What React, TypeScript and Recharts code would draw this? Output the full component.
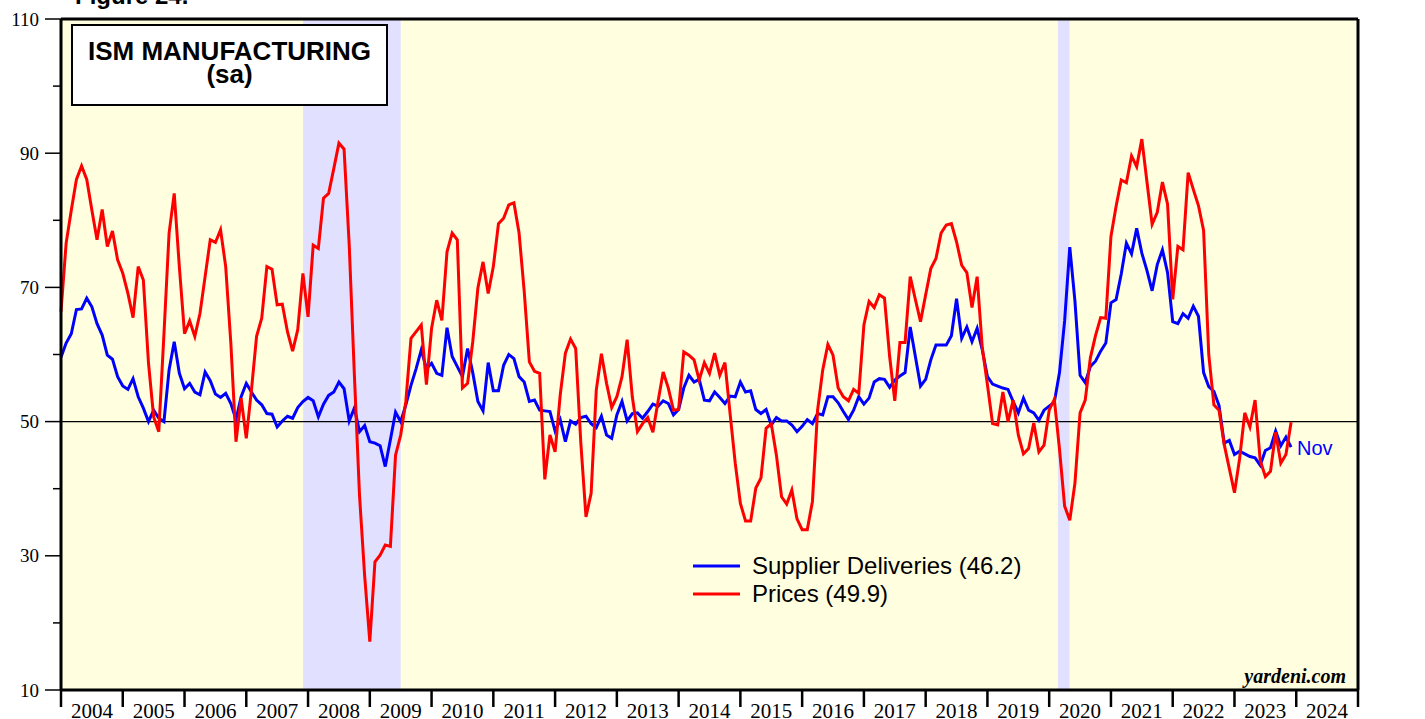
import React from 'react';
import { LineChart, Line, XAxis, YAxis, ReferenceArea, ReferenceLine } from 'recharts';

// monthly readings, Dec 2003 .. Nov 2023 (plotted at month end)
const FIRST_YEAR = 2004;

const supplierDeliveries = [
  59.6,
  61.7, 63.1, 66.7, 66.8, 68.4, 67.1, 64.6, 62.9, 59.9, 59.3, 56.7, 55.3,
  54.8, 56.4, 53.7, 52.0, 50.0, 51.7, 50.5, 50.0, 57.7, 61.9, 57.2, 54.9,
  55.7, 54.4, 54.0, 57.4, 56.1, 54.1, 53.6, 54.2, 52.7, 50.3, 53.7, 55.7,
  54.4, 53.2, 52.5, 51.2, 51.1, 49.2, 50.1, 50.8, 50.5, 52.1, 53.0, 53.6,
  53.1, 50.7, 52.6, 53.9, 54.4, 55.9, 54.9, 50.1, 52.0, 48.5, 49.4, 47.0,
  46.8, 46.4, 43.3, 47.3, 51.4, 50.0, 52.5, 55.4, 57.9, 60.7, 57.9, 58.7,
  57.2, 56.9, 64.0, 59.7, 58.2, 56.7, 60.9, 57.3, 53.0, 51.6, 58.8, 54.6,
  54.6, 58.4, 60.0, 59.4, 56.7, 55.9, 53.0, 53.2, 51.7, 51.6, 51.5, 48.6,
  50.3, 47.0, 50.1, 49.6, 50.6, 50.8, 49.7, 49.1, 50.8, 48.0, 47.5, 51.0,
  53.0, 50.1, 51.2, 51.3, 50.5, 51.5, 52.6, 52.3, 53.1, 52.7, 51.0, 51.8,
  55.0, 56.9, 55.9, 56.3, 53.2, 53.1, 54.4, 53.6, 52.7, 53.8, 53.7, 55.9,
  54.4, 54.6, 51.8, 51.2, 51.8, 49.5, 50.6, 50.1, 50.1, 49.5, 48.5, 49.3,
  50.3, 49.7, 51.2, 51.0, 53.7, 53.7, 52.8, 51.5, 50.3, 51.7, 53.7, 52.6,
  53.5, 55.9, 56.4, 56.3, 55.1, 56.2, 56.8, 57.3, 64.1, 59.7, 55.3, 56.3,
  59.2, 61.4, 61.4, 61.4, 62.8, 68.3, 62.4, 64.1, 61.9, 63.9, 60.7, 56.7,
  55.6, 55.3, 55.0, 54.8, 53.0, 51.3, 53.5, 51.7, 51.3, 50.2, 51.7, 52.3,
  52.9, 57.3, 65.0, 76.0, 68.0, 56.9, 55.8, 58.2, 59.0, 60.5, 61.7, 67.7,
  68.2, 72.0, 76.6, 75.0, 78.8, 75.1, 72.5, 69.5, 73.4, 75.6, 72.2, 64.9,
  64.6, 66.1, 65.4, 67.2, 65.7, 57.3, 55.2, 54.5, 52.4, 46.8, 47.2, 45.1,
  45.6, 45.2, 44.8, 44.6, 43.5, 45.7, 46.1, 48.6, 46.4, 47.7, 46.2,
];

const prices = [
  66.4,
  76.6, 81.5, 86.1, 88.1, 86.1, 81.5, 77.1, 81.6, 76.1, 78.4, 74.1, 72.1,
  69.1, 65.5, 73.1, 71.1, 58.7, 50.7, 48.5, 63.0, 78.1, 84.0, 73.0, 63.1,
  65.0, 62.7, 66.1, 71.6, 77.1, 76.7, 78.6, 73.1, 61.7, 47.0, 53.5, 47.5,
  54.7, 62.7, 65.4, 73.1, 72.7, 67.4, 67.5, 63.4, 60.5, 63.7, 72.1, 65.6,
  76.3, 75.8, 83.3, 84.0, 87.7, 91.5, 90.6, 76.3, 57.0, 39.0, 27.0, 17.2,
  29.1, 30.1, 31.6, 31.4, 45.0, 48.0, 53.0, 62.4, 63.4, 64.4, 55.5, 63.9,
  68.1, 65.1, 75.3, 78.1, 77.1, 55.0, 55.7, 61.9, 69.9, 73.8, 69.1, 73.1,
  79.5, 80.3, 82.3, 82.6, 78.1, 69.4, 58.9, 57.5, 57.2, 41.4, 48.0, 45.5,
  54.0, 60.2, 62.3, 60.9, 46.8, 35.8, 39.3, 54.7, 60.1, 55.7, 52.1, 53.7,
  56.7, 62.2, 53.7, 48.5, 49.7, 50.6, 48.4, 53.0, 57.4, 55.0, 51.7, 51.8,
  60.4, 59.9, 59.2, 56.2, 58.8, 57.2, 60.2, 56.9, 58.8, 51.2, 43.8, 37.8,
  35.2, 35.2, 40.1, 41.6, 49.0, 49.7, 45.0, 38.8, 37.7, 39.8, 35.5, 33.9,
  33.9, 38.1, 51.7, 57.7, 61.5, 59.9, 55.0, 53.7, 53.1, 54.8, 54.2, 64.4,
  67.9, 67.0, 68.9, 68.4, 59.7, 53.1, 61.8, 61.8, 71.6, 68.2, 64.9, 68.9,
  72.8, 74.3, 78.1, 79.3, 79.5, 76.8, 73.3, 72.2, 67.0, 71.6, 61.0, 55.5,
  49.7, 49.5, 54.4, 50.0, 53.2, 48.0, 45.2, 46.0, 49.8, 45.5, 46.5, 51.7,
  53.3, 45.9, 37.4, 35.3, 40.8, 51.3, 53.2, 59.5, 62.8, 65.5, 65.4, 77.6,
  82.1, 86.0, 85.6, 89.6, 88.0, 92.1, 85.7, 79.4, 81.2, 85.7, 82.4, 68.2,
  76.1, 75.6, 87.1, 84.6, 82.2, 78.5, 60.0, 52.5, 51.7, 46.6, 43.0, 39.4,
  44.5, 51.3, 49.2, 53.2, 44.2, 41.8, 42.6, 48.4, 43.8, 45.1, 49.9,
];

const yearTicks = [
  2004, 2005, 2006, 2007, 2008, 2009, 2010, 2011, 2012, 2013, 2014,
  2015, 2016, 2017, 2018, 2019, 2020, 2021, 2022, 2023, 2024, 2025,
];
const valueTicks = [10, 20, 30, 40, 50, 60, 70, 80, 90, 100, 110];
const labelledTicks = [10, 30, 50, 70, 90, 110];

// recessions (start, end in fractional years)
const recessions = [
  [2007.92, 2009.5],
  [2020.14, 2020.33],
];

const data = supplierDeliveries.map((v, i) => ({
  t: FIRST_YEAR + i / 12,
  supplier: v,
  prices: prices[i],
}));

const W = 1425;
const H = 719;
const PLOT_LEFT = 61;
const PLOT_RIGHT = 1358;
const YEAR_PX = (PLOT_RIGHT - PLOT_LEFT) / (yearTicks.length - 1);
const SERIF = '"Times New Roman", "Liberation Serif", serif';
const SANS = 'Arial, "Liberation Sans", sans-serif';

const XTick = (props: any) => {
  const { x, y, payload } = props;
  const yr = payload.value;
  return (
    <g>
      <line x1={x} y1={y} x2={x} y2={y + 17} stroke="#000" strokeWidth={2.5} />
      {yr < 2025 && (
        <text x={x + YEAR_PX / 2} y={y + 28} textAnchor="middle" fontFamily={SERIF} fontSize={21} fill="#000">
          {yr}
        </text>
      )}
    </g>
  );
};

const LeftTick = (props: any) => {
  const { x, y, payload } = props;
  const major = labelledTicks.includes(payload.value);
  return (
    <g>
      <line x1={x} y1={y} x2={x - (major ? 16 : 8)} y2={y} stroke="#000" strokeWidth={1.5} />
      {major && (
        <text x={x - 22} y={y} dy="0.35em" textAnchor="end" fontFamily={SERIF} fontSize={19} fill="#000">
          {payload.value}
        </text>
      )}
    </g>
  );
};

const RightTick = (props: any) => {
  const { x, y, payload } = props;
  const major = labelledTicks.includes(payload.value);
  return (
    <g>
      <line x1={x} y1={y} x2={x + (major ? 15 : 8)} y2={y} stroke="#000" strokeWidth={1.5} />
      {major && (
        <text x={x + 20} y={y} dy="0.35em" textAnchor="start" fontFamily={SERIF} fontSize={19} fill="#000">
          {payload.value}
        </text>
      )}
    </g>
  );
};

export default function App() {
  return (
    <div style={{ position: 'fixed', left: 0, top: 0, width: W, height: H, background: '#fff', overflow: 'hidden' }}>
      <LineChart width={W} height={H} data={data} margin={{ top: 19, right: 0, bottom: 0, left: 0 }}>
        <XAxis
          dataKey="t"
          type="number"
          domain={[2004, 2025]}
          ticks={yearTicks}
          interval={0}
          height={29}
          tickSize={0}
          tickMargin={0}
          tickLine={false}
          tick={<XTick />}
          axisLine={{ stroke: '#000', strokeWidth: 3 }}
        />
        <YAxis
          yAxisId="left"
          domain={[10, 110]}
          ticks={valueTicks}
          interval={0}
          width={61}
          tickSize={0}
          tickMargin={0}
          tickLine={false}
          tick={<LeftTick />}
          axisLine={{ stroke: '#000', strokeWidth: 3 }}
        />
        <YAxis
          yAxisId="right"
          orientation="right"
          domain={[10, 110]}
          ticks={valueTicks}
          interval={0}
          width={67}
          tickSize={0}
          tickMargin={0}
          tickLine={false}
          tick={<RightTick />}
          axisLine={{ stroke: '#000', strokeWidth: 3 }}
        />
        <ReferenceArea yAxisId="left" x1={2004} x2={2025} y1={10} y2={110} fill="#FFFFE0" fillOpacity={1} stroke="none" />
        {recessions.map(([a, b]) => (
          <ReferenceArea key={a} yAxisId="left" x1={a} x2={b} y1={10} y2={110} fill="#E1E1FF" fillOpacity={1} stroke="none" />
        ))}
        <ReferenceLine yAxisId="left" y={50} stroke="#000" strokeWidth={1.2} />
        <ReferenceLine yAxisId="left" y={110} stroke="#000" strokeWidth={3} />
        <Line
          yAxisId="left"
          type="linear"
          dataKey="supplier"
          stroke="#0000FF"
          strokeWidth={3}
          dot={false}
          isAnimationActive={false}
        />
        <Line
          yAxisId="left"
          type="linear"
          dataKey="prices"
          stroke="#FF0000"
          strokeWidth={3}
          dot={false}
          isAnimationActive={false}
        />
      </LineChart>
      <svg width={W} height={H} style={{ position: 'absolute', left: 0, top: 0, pointerEvents: 'none' }}>
        <text x={75} y={4} fontFamily={SANS} fontWeight="bold" fontSize={24} fill="#000">Figure 24.</text>
        <rect x={72} y={25} width={315} height={80} fill="#fff" stroke="#000" strokeWidth={2} />
        <text x={229.5} y={60} textAnchor="middle" fontFamily={SANS} fontWeight="bold" fontSize={26} fill="#000">
          ISM MANUFACTURING
        </text>
        <text x={229.5} y={83} textAnchor="middle" fontFamily={SANS} fontWeight="bold" fontSize={26} fill="#000">
          (sa)
        </text>
        <line x1={693} x2={740} y1={566} y2={566} stroke="#0000FF" strokeWidth={3} />
        <text x={752} y={574} fontFamily={SANS} fontSize={24} fill="#000">Supplier Deliveries (46.2)</text>
        <line x1={693} x2={740} y1={594} y2={594} stroke="#FF0000" strokeWidth={3} />
        <text x={752} y={602} fontFamily={SANS} fontSize={24} fill="#000">Prices (49.9)</text>
        <text x={1297} y={455} fontFamily={SANS} fontSize={20} fill="#0000FF">Nov</text>
        <text x={1346} y={683} textAnchor="end" fontFamily={SERIF} fontWeight="bold" fontStyle="italic" fontSize={20} fill="#000">
          yardeni.com
        </text>
      </svg>
    </div>
  );
}
